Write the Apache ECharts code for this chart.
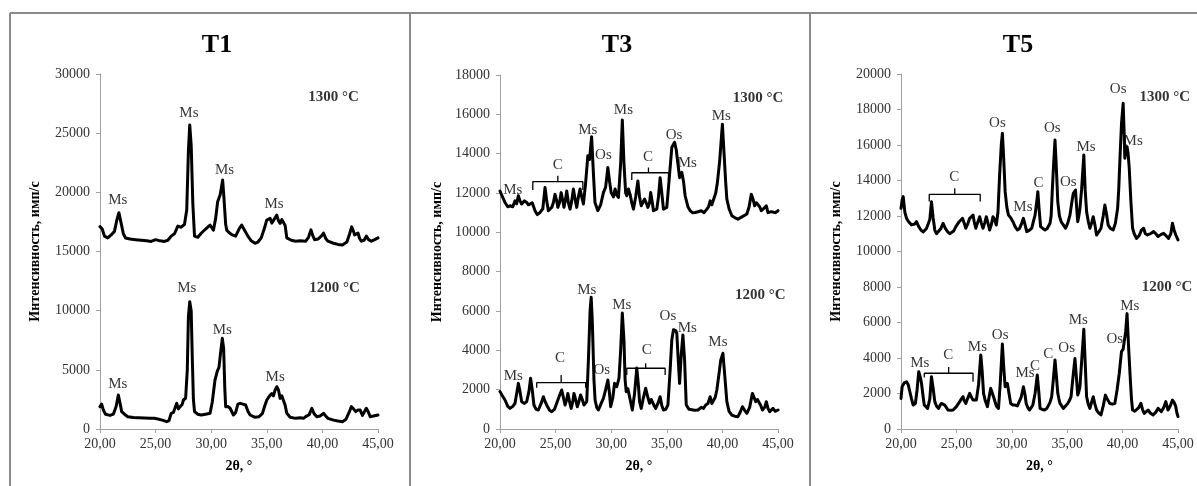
<!DOCTYPE html>
<html>
<head>
<meta charset="utf-8">
<script src="https://cdn.jsdelivr.net/npm/echarts@6/dist/echarts.min.js"></script>
<style>html,body{margin:0;padding:0;background:#fff;}#c{width:1197px;height:486px;}</style>
</head>
<body>
<div id="c"></div>
<script>
// ---------- DATA ----------
const panelTitles = ['T1', 'T3', 'T5'];
const xTicks = [20, 25, 30, 35, 40, 45];
const yMax = [30000, 18000, 20000];
const yStep = [5000, 2000, 2000];
const tempLabels = ['1300 °C', '1200 °C'];
const yAxisName = 'Интенсивность, имп/с';
const xAxisName = '2θ, °';

// T1, 1300 °C
const t1Theta1300 = [20.0,20.2,20.4,20.7,21.0,21.3,21.5,21.7,21.9,22.1,22.3,22.7,23.2,23.7,24.2,24.6,25.0,25.4,25.8,26.1,26.4,26.7,27.0,27.3,27.6,27.8,27.95,28.07,28.2,28.35,28.5,28.8,29.1,29.5,29.9,30.2,30.4,30.58,30.8,30.9,31.03,31.15,31.3,31.4,31.6,31.9,32.2,32.5,32.74,33.0,33.3,33.6,33.94,34.2,34.5,34.8,34.99,35.3,35.45,35.6,35.9,36.05,36.2,36.35,36.5,36.65,36.8,37.2,37.6,38.0,38.5,38.75,38.97,39.15,39.3,39.6,39.9,40.1,40.3,40.5,41.0,41.4,41.8,42.2,42.45,42.63,42.8,42.9,43.05,43.2,43.35,43.5,43.75,43.95,44.15,44.4,44.7,45.0];
const t1Int1300 = [17100,16900,16300,16150,16400,16700,17600,18280,17400,16500,16140,16050,16000,15950,15900,15850,16000,15900,15850,15950,16300,16500,17150,17050,17300,18500,23500,25690,24000,19000,16300,16200,16540,16900,17240,16800,17800,19210,19770,20300,21040,19500,17300,16800,16600,16400,16300,16900,17240,16800,16300,15900,15690,15800,16150,17000,17660,17800,17400,17520,18070,17600,17380,17700,17800,17200,16150,15950,15870,15900,15870,16200,16830,16300,16000,16050,16300,16560,16100,15870,15700,15600,15550,15800,16500,17080,16700,16400,16560,16560,16100,15870,15950,16300,16000,15870,16000,16150];
// T1, 1200 °C
const t1Theta1200 = [20.0,20.15,20.3,20.5,20.9,21.2,21.45,21.65,21.8,21.95,22.2,22.5,23.0,23.5,24.0,24.5,24.9,25.2,25.6,26.0,26.2,26.4,26.6,26.9,27.05,27.2,27.4,27.5,27.7,27.85,27.95,28.07,28.2,28.3,28.4,28.5,28.8,29.1,29.5,29.9,30.1,30.34,30.55,30.7,30.85,31.0,31.12,31.22,31.3,31.5,31.7,32.0,32.2,32.4,32.6,32.85,33.1,33.3,33.5,33.9,34.3,34.6,34.8,35.0,35.25,35.45,35.6,35.75,35.9,36.05,36.2,36.35,36.5,36.65,36.8,37.1,37.6,38.0,38.3,38.5,38.8,39.05,39.25,39.5,39.8,40.1,40.3,40.5,41.0,41.4,41.8,42.1,42.4,42.6,42.8,43.0,43.2,43.4,43.6,43.75,43.95,44.1,44.3,44.6,45.0];
const t1Int1200 = [1887,2100,1600,1250,1150,1250,1900,2873,2200,1466,1250,1042,980,950,930,900,900,850,750,620,700,1325,1400,2170,1700,1887,2100,2450,2600,5000,9500,10760,10000,6000,2500,1466,1250,1183,1250,1325,2300,4140,4900,5210,6500,7660,6800,3500,1887,1900,1750,1183,1400,2100,2170,2100,2030,1500,1183,1000,1042,1300,1900,2450,2800,3000,2800,3300,3575,3300,2590,2800,2730,2000,1325,1000,900,950,900,1042,1200,1750,1300,1042,1100,1325,1100,900,750,680,620,800,1400,1887,1700,1466,1600,1600,1150,1042,1750,1500,1042,1100,1183];

// T3, 1300 °C
const t3Theta1300 = [20.0,20.15,20.45,20.7,20.9,21.15,21.35,21.5,21.65,21.8,21.95,22.2,22.4,22.55,22.7,22.9,23.15,23.35,23.6,23.85,24.05,24.2,24.35,24.5,24.65,24.8,24.95,25.1,25.2,25.35,25.5,25.65,25.75,25.9,26.0,26.15,26.3,26.45,26.6,26.75,26.9,27.05,27.2,27.35,27.5,27.7,27.9,28.05,28.24,28.4,28.54,28.8,29.05,29.3,29.5,29.7,29.85,30.0,30.2,30.35,30.5,30.65,30.85,31.0,31.15,31.3,31.4,31.55,31.7,31.85,32.0,32.2,32.4,32.55,32.7,32.85,33.0,33.15,33.3,33.45,33.55,33.7,33.8,33.95,34.1,34.25,34.4,34.55,34.7,34.85,35.0,35.2,35.45,35.6,35.7,35.85,35.95,36.15,36.35,36.5,36.65,36.9,37.1,37.3,37.55,37.8,38.1,38.35,38.6,38.75,38.9,39.05,39.2,39.4,39.55,39.75,40.0,40.15,40.3,40.4,40.6,40.85,41.1,41.4,41.8,42.2,42.4,42.6,42.75,42.9,43.05,43.2,43.35,43.5,43.7,43.95,44.1,44.25,44.4,44.55,44.75,45.0];
const t3Int1300 = [12100,11900,11520,11300,11350,11300,11600,11450,11860,11600,11440,11600,11520,11400,11350,11500,11100,10900,11010,11200,12280,11600,11100,11050,11270,11500,11930,11600,11270,11500,12020,11600,11270,11700,12100,11500,11180,11600,12200,11700,11270,11800,12200,11800,11440,12500,13900,13700,14860,13000,11520,11100,11400,12020,12300,13300,12600,12020,11800,12200,11900,11770,13500,15710,13500,12000,11860,12200,11930,11500,11180,11800,12610,11800,11350,11400,11690,11500,11270,11500,12020,11500,11100,11050,11180,11800,12780,12000,11180,11150,11270,12600,14320,14400,14580,14200,13730,12780,13050,12600,11860,11300,11100,11000,11010,11050,11100,11000,11180,11300,11600,11400,11350,12000,12530,13600,15500,14000,12500,11690,11200,10840,10750,10670,10800,10930,11300,11930,11700,11350,11500,11440,11300,11100,11200,11350,11000,10930,11050,11100,11000,11100];
// T3, 1200 °C
const t3Theta1200 = [20.0,20.2,20.45,20.7,20.9,21.15,21.35,21.5,21.65,21.8,21.95,22.2,22.4,22.6,22.75,22.9,23.05,23.25,23.45,23.7,23.9,24.05,24.2,24.45,24.65,24.9,25.1,25.35,25.55,25.7,25.85,26.0,26.1,26.25,26.4,26.55,26.65,26.8,26.95,27.1,27.25,27.4,27.55,27.7,27.8,27.95,28.1,28.2,28.3,28.45,28.55,28.7,28.85,29.1,29.3,29.5,29.7,29.85,29.95,30.15,30.3,30.5,30.7,30.85,31.0,31.15,31.25,31.35,31.5,31.65,31.9,32.1,32.3,32.45,32.55,32.7,32.9,33.1,33.3,33.45,33.6,33.7,33.85,34.0,34.2,34.4,34.55,34.7,34.9,35.1,35.3,35.45,35.6,35.7,35.8,35.9,36.0,36.15,36.3,36.45,36.6,36.75,37.0,37.1,37.5,37.8,38.1,38.3,38.5,38.7,38.9,39.05,39.2,39.35,39.5,39.7,39.85,40.05,40.2,40.4,40.6,40.85,41.1,41.4,41.6,41.8,42.0,42.2,42.45,42.7,42.85,43.0,43.15,43.3,43.45,43.6,43.8,43.95,44.1,44.25,44.4,44.55,44.75,45.0];
const t3Int1200 = [1900,1700,1475,1150,1050,1150,1305,1800,2320,1900,1390,1300,1390,1900,2580,2000,1220,1000,966,1300,1640,1400,1220,950,880,1000,1305,1700,1983,1600,1220,1500,1810,1400,1050,1400,1810,1500,1135,1400,1730,1500,1220,1300,1390,3500,6000,6700,5500,2500,1475,1100,966,1300,1560,2000,2490,1800,1135,1600,2320,2150,2580,4000,5900,4500,2500,1900,2050,1983,966,1800,3100,2200,1400,1050,1600,2070,1600,1305,1500,1475,1200,1050,1300,1640,1200,966,1000,1220,3000,4530,5050,5120,5000,4860,3800,2320,3800,4780,3500,1220,1000,966,950,966,1100,1050,1220,1300,1640,1300,1220,1600,1983,2830,3500,3850,2800,1390,900,710,650,627,850,1135,950,800,1100,1810,1600,1390,1500,1475,1200,966,1100,1390,1050,880,950,1050,900,966];

// T5, 1300 °C
const t5Theta1300 = [20.0,20.1,20.2,20.35,20.5,20.65,20.8,20.95,21.1,21.25,21.4,21.6,21.8,22.0,22.15,22.3,22.45,22.6,22.75,22.9,23.05,23.2,23.35,23.6,23.8,24.0,24.2,24.4,24.55,24.75,24.95,25.1,25.25,25.4,25.55,25.7,25.85,26.05,26.2,26.35,26.5,26.6,26.75,26.9,27.1,27.25,27.4,27.55,27.7,27.85,28.0,28.15,28.3,28.45,28.6,28.75,28.9,29.05,29.15,29.25,29.4,29.55,29.7,29.9,30.1,30.3,30.5,30.7,30.9,31.05,31.2,31.35,31.6,31.8,31.95,32.1,32.25,32.35,32.45,32.6,32.8,33.0,33.2,33.45,33.55,33.65,33.78,33.9,34.0,34.15,34.3,34.45,34.65,34.85,35.05,35.25,35.4,35.55,35.75,35.85,35.95,36.05,36.15,36.3,36.5,36.62,36.75,36.9,37.05,37.2,37.35,37.5,37.65,37.85,38.05,38.25,38.4,38.55,38.7,38.9,39.15,39.35,39.55,39.65,39.75,39.9,40.05,40.15,40.2,40.3,40.4,40.5,40.6,40.75,40.9,41.05,41.25,41.5,41.7,41.9,42.05,42.25,42.5,42.8,43.0,43.2,43.45,43.7,43.9,44.15,44.35,44.5,44.65,44.8,45.0];
const t5Int1300 = [12430,12900,13090,12200,11870,11700,11680,11500,11400,11550,11680,11400,11210,11100,11120,11300,11400,11800,12800,11900,11210,11000,10930,11300,11590,11300,11120,11000,10930,11150,11400,11300,11680,11600,11870,11600,11310,11600,11870,11900,12050,11700,11310,11600,11960,11600,11310,11600,11960,11600,11210,11500,11960,11800,11490,12200,14310,16000,16660,15500,13370,12500,12050,11900,11680,11400,11210,11300,11600,11870,11500,11120,11200,11310,11700,12050,12800,13370,12500,11400,11300,11210,11300,11590,12000,13370,15000,16280,15000,12800,12000,11680,11500,11310,11600,12050,12700,13280,13460,12500,11680,12000,12430,13500,15440,13500,12240,11700,11310,11600,11960,11500,10930,11100,11310,12000,12620,12100,11490,11300,11210,11600,12430,13500,15060,17200,18350,16500,15250,15700,15910,15500,14690,12800,11310,11000,10740,10900,11200,11310,11000,10930,11000,11120,11000,10840,10950,11030,10900,10740,11000,11590,11200,10930,10650];
// T5, 1200 °C
const t5Theta1200 = [20.0,20.1,20.3,20.5,20.65,20.8,20.95,21.1,21.3,21.45,21.6,21.75,21.85,22.0,22.1,22.25,22.4,22.6,22.75,22.9,23.05,23.2,23.4,23.5,23.65,23.8,23.95,24.1,24.25,24.5,24.7,24.85,25.0,25.15,25.3,25.45,25.6,25.7,25.85,26.0,26.2,26.35,26.5,26.65,26.8,27.0,27.2,27.32,27.45,27.6,27.8,27.95,28.1,28.25,28.4,28.6,28.8,28.95,29.15,29.27,29.4,29.5,29.6,29.75,29.9,30.1,30.3,30.5,30.65,30.85,31.05,31.2,31.3,31.45,31.6,31.75,31.9,32.1,32.3,32.45,32.55,32.75,32.95,33.15,33.3,33.45,33.6,33.75,33.9,34.02,34.15,34.25,34.35,34.5,34.65,34.85,35.05,35.2,35.35,35.5,35.7,35.82,35.95,36.05,36.15,36.3,36.5,36.62,36.75,36.9,37.05,37.2,37.35,37.5,37.65,37.85,38.05,38.25,38.45,38.6,38.85,39.1,39.3,39.5,39.7,39.9,40.05,40.15,40.28,40.4,40.55,40.7,40.8,40.9,41.1,41.25,41.45,41.65,41.8,41.95,42.1,42.3,42.5,42.75,43.0,43.2,43.35,43.5,43.7,43.9,44.0,44.1,44.3,44.5,44.65,44.8,44.9,45.0];
const t5Int1200 = [1720,2380,2600,2660,2500,2100,1700,1350,1440,2200,3230,2900,2570,1800,1350,1250,1160,1700,2950,2300,1540,1300,1160,1300,1440,1400,1350,1200,1070,1050,1070,1150,1260,1400,1540,1700,1820,1600,1440,1700,2010,1800,1630,1650,1630,2500,4170,3300,2010,1600,1260,1800,2290,2000,1720,1300,1160,2500,4790,3500,2380,2450,2570,2000,1440,1350,1350,1300,1260,1800,2380,1900,1440,1200,1070,1200,1350,2000,3040,2000,1160,1100,1070,1150,1260,1500,1820,2800,3890,3000,2010,1700,1440,1300,1160,1300,1440,1600,1820,2800,3970,3000,1910,2100,2380,3800,5620,3800,1820,1400,1160,1500,1820,1400,1070,900,790,1300,1910,1700,1440,1400,1440,2200,3140,4360,4500,4450,5500,6500,4500,2760,1700,1070,1000,980,1200,1440,1100,880,950,1070,900,790,950,1160,1100,980,1200,1540,1300,1070,1300,1630,1500,1260,900,695];

// Peak labels: [2θ, intensity, text]
const t1Peaks = [[21.6,19350,'Ms'],[28.0,26700,'Ms'],[31.2,21900,'Ms'],[35.65,19000,'Ms'],
                 [21.6,3800,'Ms'],[27.8,11900,'Ms'],[31.0,8370,'Ms'],[35.75,4390,'Ms']];
const t3Peaks = [[21.15,12150,'Ms'],[25.2,13420,'C'],[27.9,15200,'Ms'],[29.3,13930,'Os'],[31.1,16220,'Ms'],[33.3,13850,'C'],[35.65,14950,'Os'],[36.85,13510,'Ms'],[39.9,15920,'Ms'],
                 [21.2,2700,'Ms'],[25.4,3610,'C'],[29.15,3000,'Os'],[27.8,7070,'Ms'],[30.95,6300,'Ms'],[33.2,4020,'C'],[35.1,5750,'Os'],[36.85,5120,'Ms'],[39.6,4440,'Ms']];
const t5Peaks = [[24.8,14210,'C'],[28.7,17260,'Os'],[31.0,12520,'Ms'],[32.4,13880,'C'],[33.65,16940,'Os'],[35.1,13930,'Os'],[36.7,15900,'Ms'],[39.6,19140,'Os'],[40.95,16230,'Ms'],
                 [21.7,3740,'Ms'],[24.27,4170,'C'],[26.9,4600,'Ms'],[28.95,5300,'Os'],[31.2,3140,'Ms'],[32.1,3550,'C'],[33.3,4230,'C'],[34.95,4550,'Os'],[36.0,6140,'Ms'],[39.3,5050,'Os'],[40.65,6930,'Ms']];
// Temperature label anchors: [2θ, intensity] for 1300 and 1200
const t1TempPos = [[41.0,28050],[41.1,11900]];
const t3TempPos = [[43.2,16830],[43.4,6810]];
const t5TempPos = [[43.8,18690],[44.0,8020]];
// Brackets for "C" groups: [x1, x2, yTop, yLeftEnd, yRightEnd, xCenter, yCenterTick]
const t3Brackets = [[22.95,27.45,12580,12150,12150,25.2,12880],[31.85,35.15,13030,12660,12660,33.35,13300],
                    [23.3,27.7,2355,2100,2100,25.5,2746],[31.4,34.85,3090,2750,2750,33.1,3340]];
const t5Brackets = [[22.55,27.15,13220,12810,12810,24.85,13560],[22.1,26.5,3140,2900,2660,24.3,3500]];

// ---------- CHART ----------
const FONT = "'Liberation Serif', 'Times New Roman', serif";
const zip = (a, b) => a.map((v, i) => [v, b[i]]);
const curves = [
  [[t1Theta1300, t1Int1300], [t1Theta1200, t1Int1200]],
  [[t3Theta1300, t3Int1300], [t3Theta1200, t3Int1200]],
  [[t5Theta1300, t5Int1300], [t5Theta1200, t5Int1200]]
];
const peaks = [t1Peaks, t3Peaks, t5Peaks];
const temps = [t1TempPos, t3TempPos, t5TempPos];
const brackets = [[], t3Brackets, t5Brackets];

const grids = [
  {left: 100, top: 74, width: 278, height: 355},
  {left: 500, top: 75, width: 278, height: 354},
  {left: 901, top: 74, width: 277, height: 355}
];
const titleX = [212, 612, 1013];
const yNameGap = [58, 56, 58];

const xAxes = [], yAxes = [], series = [], titles = [];
for (let p = 0; p < 3; p++) {
  titles.push({text: panelTitles[p], left: titleX[p], top: 27, textAlign: 'center',
    textStyle: {fontFamily: FONT, fontSize: 26, fontWeight: 'bold', color: '#000'}});
  xAxes.push({
    type: 'value', gridIndex: p, min: xTicks[0], max: xTicks[xTicks.length - 1], interval: 5,
    name: xAxisName, nameLocation: 'middle', nameGap: 30,
    nameTextStyle: {fontFamily: FONT, fontSize: 14, fontWeight: 'bold', color: '#000'},
    axisLine: {lineStyle: {color: '#a0a0a0', width: 1}},
    axisTick: {length: 4, lineStyle: {color: '#a0a0a0'}},
    axisLabel: {fontFamily: FONT, fontSize: 14, color: '#333', margin: 8,
      formatter: v => v.toFixed(2).replace('.', ',')},
    splitLine: {show: false}
  });
  yAxes.push({
    type: 'value', gridIndex: p, min: 0, max: yMax[p], interval: yStep[p],
    name: yAxisName, nameLocation: 'middle', nameGap: yNameGap[p],
    nameTextStyle: {fontFamily: FONT, fontSize: 14, fontWeight: 'bold', color: '#000'},
    axisLine: {show: true, lineStyle: {color: '#a0a0a0', width: 1}},
    axisTick: {show: true, length: 4, lineStyle: {color: '#a0a0a0'}},
    axisLabel: {fontFamily: FONT, fontSize: 14, color: '#333', margin: 10,
      formatter: v => String(Math.round(v))},
    splitLine: {show: false}
  });
  curves[p].forEach(c => {
    series.push({type: 'line', xAxisIndex: p, yAxisIndex: p, data: zip(c[0], c[1]),
      showSymbol: false, symbol: 'none', silent: true,
      lineStyle: {color: '#000', width: 3, join: 'round', cap: 'round'}, z: 3});
  });
  series.push({type: 'scatter', xAxisIndex: p, yAxisIndex: p, data: peaks[p],
    symbolSize: 1, itemStyle: {color: 'rgba(0,0,0,0)'}, silent: true, z: 5,
    label: {show: true, position: 'inside', formatter: q => q.data[2],
      fontFamily: FONT, fontSize: 15, color: '#000'}});
  series.push({type: 'scatter', xAxisIndex: p, yAxisIndex: p,
    data: temps[p].map((t, i) => [t[0], t[1], tempLabels[i]]),
    symbolSize: 1, itemStyle: {color: 'rgba(0,0,0,0)'}, silent: true, z: 5,
    label: {show: true, position: 'inside', formatter: q => q.data[2],
      fontFamily: FONT, fontSize: 15, fontWeight: 'bold', color: '#000'}});
  brackets[p].forEach(b => {
    const [x1, x2, yt, yl, yr, xc, yc] = b;
    series.push({type: 'line', xAxisIndex: p, yAxisIndex: p, showSymbol: false, symbol: 'none', silent: true,
      data: [[x1, yl], [x1, yt], [xc, yt], [xc, yc], [xc, yt], [x2, yt], [x2, yr]],
      lineStyle: {color: '#000', width: 1.3}, z: 4});
  });
}

const chart = echarts.init(document.getElementById('c'), null, {renderer: 'canvas'});
chart.setOption({
  animation: false,
  backgroundColor: '#fff',
  title: titles,
  grid: grids,
  xAxis: xAxes,
  yAxis: yAxes,
  series: series,
  graphic: [
    {type: 'line', shape: {x1: 10, y1: 13, x2: 1197, y2: 13}, style: {stroke: '#8a8a8a', lineWidth: 2}},
    {type: 'line', shape: {x1: 10, y1: 13, x2: 10, y2: 486}, style: {stroke: '#8a8a8a', lineWidth: 2}},
    {type: 'line', shape: {x1: 410, y1: 13, x2: 410, y2: 486}, style: {stroke: '#8a8a8a', lineWidth: 2}},
    {type: 'line', shape: {x1: 810, y1: 13, x2: 810, y2: 486}, style: {stroke: '#8a8a8a', lineWidth: 2}}
  ]
});
</script>
</body>
</html>
